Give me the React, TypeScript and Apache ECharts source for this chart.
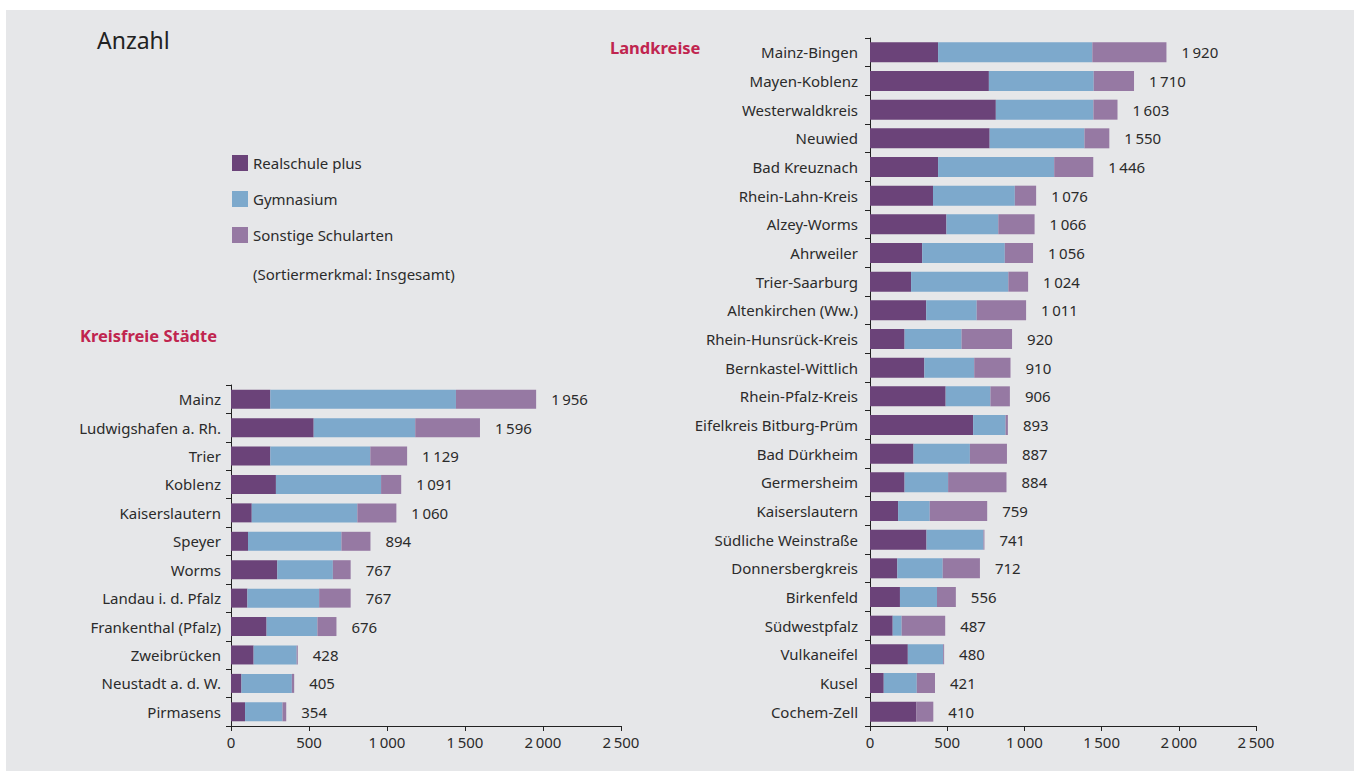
import React, { useEffect, useRef } from "react";
import * as echarts from "echarts";

const seriesNames = ["Realschule plus", "Gymnasium", "Sonstige Schularten"];
const colors = ["#6b4379", "#7da9cc", "#9679a3"];

const cityCats = [
  "Mainz", "Ludwigshafen a. Rh.", "Trier", "Koblenz", "Kaiserslautern", "Speyer",
  "Worms", "Landau i. d. Pfalz", "Frankenthal (Pfalz)", "Zweibrücken", "Neustadt a. d. W.", "Pirmasens",
];
const cityReal = [252, 530, 252, 288, 133, 109, 297, 105, 228, 145, 67, 90];
const cityGym = [1190, 651, 641, 674, 677, 599, 356, 460, 326, 276, 323, 240];
const cityTotal = [1956, 1596, 1129, 1091, 1060, 894, 767, 767, 676, 428, 405, 354];

const districtCats = [
  "Mainz-Bingen", "Mayen-Koblenz", "Westerwaldkreis", "Neuwied", "Bad Kreuznach",
  "Rhein-Lahn-Kreis", "Alzey-Worms", "Ahrweiler", "Trier-Saarburg", "Altenkirchen (Ww.)",
  "Rhein-Hunsrück-Kreis", "Bernkastel-Wittlich", "Rhein-Pfalz-Kreis", "Eifelkreis Bitburg-Prüm",
  "Bad Dürkheim", "Germersheim", "Kaiserslautern", "Südliche Weinstraße", "Donnersbergkreis",
  "Birkenfeld", "Südwestpfalz", "Vulkaneifel", "Kusel", "Cochem-Zell",
];
const distReal = [441, 770, 815, 775, 441, 408, 495, 338, 266, 364, 224, 352, 490, 668, 282, 224, 182, 366, 177, 194, 147, 245, 89, 299];
const distGym = [999, 679, 632, 614, 752, 530, 336, 535, 630, 327, 369, 323, 290, 210, 365, 282, 205, 369, 294, 240, 58, 229, 214, 0];
const distTotal = [1920, 1710, 1603, 1550, 1446, 1076, 1066, 1056, 1024, 1011, 920, 910, 906, 893, 887, 884, 759, 741, 712, 556, 487, 480, 421, 410];

const xTicks = [0, 500, 1000, 1500, 2000, 2500];

const FONT = "Noto Sans";
const TXT = "#2b2b2b";
const FS = 15;

function fmt(v: number): string {
  const s = String(Math.round(v));
  return s.length > 3 ? s.slice(0, s.length - 3) + "\u2009" + s.slice(s.length - 3) : s;
}

function rest(total: number[], a: number[], b: number[]): number[] {
  return total.map((t, i) => t - a[i] - b[i]);
}

export default function App() {
  const ref = useRef<HTMLDivElement>(null);
  useEffect(() => {
    document.body.style.margin = "0";
    const chart = echarts.init(ref.current!, null, { renderer: "svg" });
    const cityRest = rest(cityTotal, cityReal, cityGym);
    const distRest = rest(distTotal, distReal, distGym);

    const xAxisBase = (gridIndex: number) => ({
      type: "value",
      gridIndex,
      min: 0,
      max: 2500,
      interval: 500,
      axisLine: { show: true, lineStyle: { color: "#222", width: 1 } },
      axisTick: { show: true, length: 5, lineStyle: { color: "#222" } },
      splitLine: { show: false },
      axisLabel: {
        color: TXT,
        fontFamily: FONT,
        fontSize: FS,
        margin: 8,
        formatter: (v: number) => (xTicks.includes(v) ? fmt(v) : ""),
      },
    });
    const yAxisBase = (gridIndex: number, data: string[], margin: number) => ({
      type: "category",
      gridIndex,
      data,
      inverse: true,
      axisLine: { show: true, lineStyle: { color: "#222", width: 1 } },
      axisTick: { show: true, length: 5, lineStyle: { color: "#222" } },
      axisLabel: { color: TXT, fontFamily: FONT, fontSize: FS, margin },
    });

    const mk = (gi: number, arrs: number[][], totals: number[], bw: number) =>
      arrs.map((d, k) => ({
        type: "bar",
        name: seriesNames[k],
        xAxisIndex: gi,
        yAxisIndex: gi,
        stack: "s" + gi,
        barWidth: bw,
        data: d,
        itemStyle: { color: colors[k] },
        label:
          k === 2
            ? {
                show: true,
                position: "right",
                distance: 15,
                color: TXT,
                fontFamily: FONT,
                fontSize: FS,
                formatter: (p: any) => fmt(totals[p.dataIndex]),
              }
            : { show: false },
      }));

    chart.setOption({
      animation: false,
      backgroundColor: "#ffffff",
      textStyle: { fontFamily: FONT },
      graphic: [
        { type: "rect", shape: { x: 6, y: 10, width: 1348, height: 761 }, style: { fill: "#e6e7e9" }, z: -10 },
        { type: "text", left: 97, top: 28, style: { text: "Anzahl", fontFamily: FONT, fontSize: 23, fill: "#222" } },
        { type: "text", left: 80, top: 327, style: { text: "Kreisfreie Städte", fontFamily: FONT, fontSize: 16.5, fontWeight: "bold", fill: "#c0254f" } },
        { type: "text", left: 610, top: 39, style: { text: "Landkreise", fontFamily: FONT, fontSize: 16.5, fontWeight: "bold", fill: "#c0254f" } },
        { type: "text", left: 253, top: 266, style: { text: "(Sortiermerkmal: Insgesamt)", fontFamily: FONT, fontSize: FS, fill: TXT } },
      ],
      legend: {
        orient: "vertical",
        left: 227,
        top: 150,
        itemWidth: 16,
        itemHeight: 16,
        itemGap: 20,
        icon: "rect",
        data: seriesNames,
        textStyle: { color: TXT, fontFamily: FONT, fontSize: FS },
      },
      grid: [
        { left: 231, right: 1354 - 621, top: 385, bottom: 771 - 726 },
        { left: 870, right: 1354 - 1256, top: 38, bottom: 771 - 726 },
      ],
      xAxis: [xAxisBase(0), xAxisBase(1)],
      yAxis: [yAxisBase(0, cityCats, 10), yAxisBase(1, districtCats, 12)],
      series: [
        ...mk(0, [cityReal, cityGym, cityRest], cityTotal, 19),
        ...mk(1, [distReal, distGym, distRest], distTotal, 20),
      ],
    });
    return () => chart.dispose();
  }, []);
  return <div ref={ref} style={{ width: 1354, height: 771 }} />;
}
